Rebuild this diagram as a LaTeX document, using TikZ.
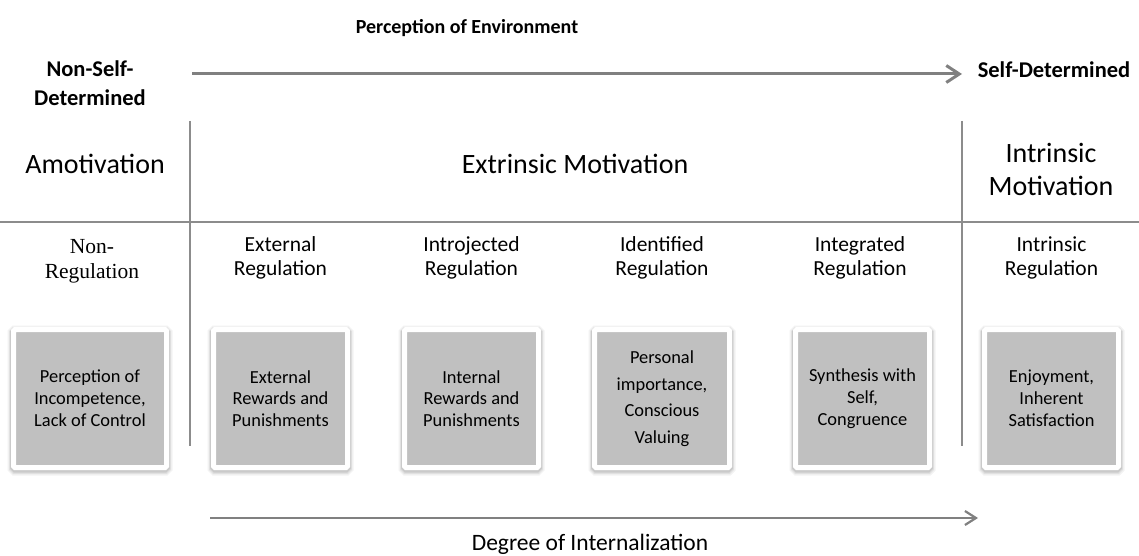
\documentclass[tikz,border=0pt]{standalone}
\usepackage{fontspec}
\setmainfont{Carlito}
\newfontfamily\timesfont{Liberation Serif}
\usetikzlibrary{arrows.meta}
\definecolor{rulegray}{HTML}{8C8C8C}
\definecolor{arrowgray}{HTML}{808080}
\definecolor{boxgray}{HTML}{C0C0C0}
\begin{document}
\begin{tikzpicture}[x=1pt,y=-1pt,
  sideword/.style={font=\bfseries\fontsize{22.5}{29}\selectfont, align=center},
  bigword/.style={font=\fontsize{28}{33}\selectfont, align=center},
  regword/.style={font=\fontsize{21.5}{24}\selectfont, align=center},
  card/.style={fill=boxgray, draw=white, line width=5pt, rounded corners=1.5pt,
    minimum height=138pt, inner sep=0pt, align=center,
    font=\fontsize{18.4}{21.8}\selectfont,
    preaction={draw=black, opacity=0.05, line width=12pt, transform canvas={yshift=-2pt}},
    preaction={draw=black, opacity=0.07, line width=9pt, transform canvas={yshift=-2pt}},
    preaction={draw=black, opacity=0.10, line width=7pt, transform canvas={yshift=-1.5pt}}},
  rule/.style={draw=rulegray, line width=2pt},
  bigarrow/.style={draw=arrowgray, line width=3pt, -{Straight Barb[length=13pt,width=17pt]}},
  lowarrow/.style={draw=arrowgray, line width=2.2pt, -{Straight Barb[length=11pt,width=14pt]}}
]
\useasboundingbox (0,0) rectangle (1139,556);

% headings
\node[font=\bfseries\fontsize{20}{24}\selectfont] (env) at (467,28) {Perception of Environment};
\node[sideword] (nonself) at (90,83) {Non-Self-\\Determined};
\node[sideword] (self) at (1054,70) {Self-Determined};

% top arrow
\coordinate (envStart) at (192,74);
\coordinate (envEnd) at (962,74);
\draw[bigarrow] (envStart) -- (envEnd);

% grid lines
\coordinate (ruleL) at (0,222);
\coordinate (ruleR) at (1139,222);
\coordinate (divAtop) at (190,121);
\coordinate (divAbot) at (190,446);
\coordinate (divBtop) at (962,121);
\coordinate (divBbot) at (962,446);
\draw[rule] (ruleL) -- (ruleR);
\draw[rule] (divAtop) -- (divAbot);
\draw[rule] (divBtop) -- (divBbot);

% motivation types
\node[bigword] (amot) at (95,164) {Amotivation};
\node[bigword] (extr) at (575,164) {Extrinsic Motivation};
\node[bigword] (intr) at (1051,169) {Intrinsic\\Motivation};

% regulation styles
\node[regword, font=\timesfont\fontsize{21.5}{25}\selectfont] (r1) at (92,261) {Non-\\Regulation};
\node[regword] (r2) at (280.5,258) {External\\Regulation};
\node[regword] (r3) at (471.5,258) {Introjected\\Regulation};
\node[regword] (r4) at (662,258) {Identified\\Regulation};
\node[regword] (r5) at (860,258) {Integrated\\Regulation};
\node[regword] (r6) at (1051.5,258) {Intrinsic\\Regulation};

% process cards
\node[card, minimum width=153pt] (c1) at (90,398.5) {Perception of\\Incompetence,\\Lack of Control};
\node[card, minimum width=134pt] (c2) at (280.5,398.5) {External\\Rewards and\\Punishments};
\node[card, minimum width=134pt] (c3) at (471.5,398.5) {Internal\\Rewards and\\Punishments};
\node[card, minimum width=135pt, font=\fontsize{18.4}{26.5}\selectfont] (c4) at (662,398.5) {Personal\\importance,\\Conscious\\Valuing};
\node[card, minimum width=134pt] (c5) at (862.5,398.5) {Synthesis with\\Self,\\Congruence};
\node[card, minimum width=134pt] (c6) at (1051.5,398.5) {Enjoyment,\\Inherent\\Satisfaction};

% bottom arrow
\coordinate (intStart) at (210,518);
\coordinate (intEnd) at (978,518);
\draw[lowarrow] (intStart) -- (intEnd);
\node[font=\fontsize{23.5}{27}\selectfont] (degree) at (590,544) {Degree of Internalization};
\end{tikzpicture}
\end{document}
